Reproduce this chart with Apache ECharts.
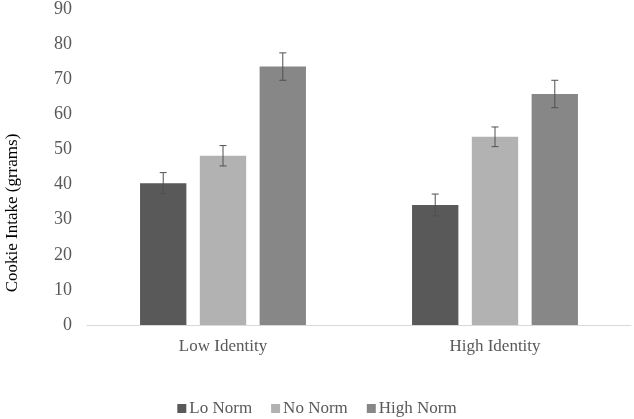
<!DOCTYPE html>
<html><head><meta charset="utf-8">
<script src="https://cdn.jsdelivr.net/npm/echarts@6/dist/echarts.min.js"></script>
<style>html,body{margin:0;padding:0;background:#fff}#c{width:634px;height:419px}</style>
</head><body><div id="c"></div>
<script>
var categories = ['Low Identity', 'High Identity'];
var seriesNames = ['Lo Norm', 'No Norm', 'High Norm'];
var loNorm = [40.4, 34.2];
var noNorm = [48.2, 53.6];
var highNorm = [73.6, 65.8];
var loNormErr = [3.0, 3.1];
var noNormErr = [2.9, 2.8];
var highNormErr = [3.9, 3.9];
var yTicks = [0, 10, 20, 30, 40, 50, 60, 70, 80, 90];
var yTitle = 'Cookie Intake (grrams)';

var colors = ['#595959', '#b2b2b2', '#878787'];
var values = [loNorm, noNorm, highNorm];
var errs = [loNormErr, noNormErr, highNormErr];
var font = 'Liberation Serif';

var chart = echarts.init(document.getElementById('c'));
var series = [];
values.forEach(function (v, i) {
  series.push({
    name: seriesNames[i], type: 'bar', data: v,
    itemStyle: { color: colors[i] },
    barGap: '29%', barCategoryGap: '39%'
  });
});
values.forEach(function (v, i) {
  series.push({
    type: 'custom', name: seriesNames[i] + ' err',
    data: v.map(function (val, k) { return [k, val - errs[i][k], val + errs[i][k]]; }),
    z: 10,
    renderItem: function (params, api) {
      var k = api.value(0);
      var lo = api.coord([k, api.value(1)]);
      var hi = api.coord([k, api.value(2)]);
      var band = api.size([1, 0])[0];
      var barW = band * (1 - 0.39) / (3 + 2 * 0.29);
      var gap = barW * 0.29;
      var x = lo[0] - band * (1 - 0.39) / 2 + i * (barW + gap) + barW / 2;
      var cap = 3.5;
      var st = { stroke: '#505050', lineWidth: 1 };
      return { type: 'group', children: [
        { type: 'line', shape: { x1: x, y1: lo[1], x2: x, y2: hi[1] }, style: st },
        { type: 'line', shape: { x1: x - cap, y1: hi[1], x2: x + cap, y2: hi[1] }, style: st },
        { type: 'line', shape: { x1: x - cap, y1: lo[1], x2: x + cap, y2: lo[1] }, style: st }
      ]};
    }
  });
});

chart.setOption({
  animation: false,
  textStyle: { fontFamily: font },
  grid: { left: 87, right: 3, top: 8, bottom: 94 },
  legend: {
    data: seriesNames, top: 395, left: 'center',
    icon: 'rect', itemWidth: 9, itemHeight: 9, itemGap: 19,
    textStyle: { fontFamily: font, fontSize: 17, color: '#595959', padding: [0, 0, 0, -2] }
  },
  graphic: [{
    type: 'text', x: 13, y: 213, rotation: Math.PI / 2,
    style: { text: yTitle, font: '17px "Liberation Serif"', fill: '#000', align: 'center', verticalAlign: 'middle' }
  }],
  xAxis: {
    type: 'category', data: categories,
    axisLine: { lineStyle: { color: '#d9d9d9', width: 1 } },
    axisTick: { show: false },
    axisLabel: { fontFamily: font, fontSize: 17, color: '#595959', margin: 13 }
  },
  yAxis: {
    type: 'value', min: yTicks[0], max: yTicks[yTicks.length - 1], interval: 10,
    splitLine: { show: false },
    axisLine: { show: false }, axisTick: { show: false },
    axisLabel: { fontFamily: font, fontSize: 18, color: '#595959', margin: 15 }
  },
  series: series
});
</script></body></html>
